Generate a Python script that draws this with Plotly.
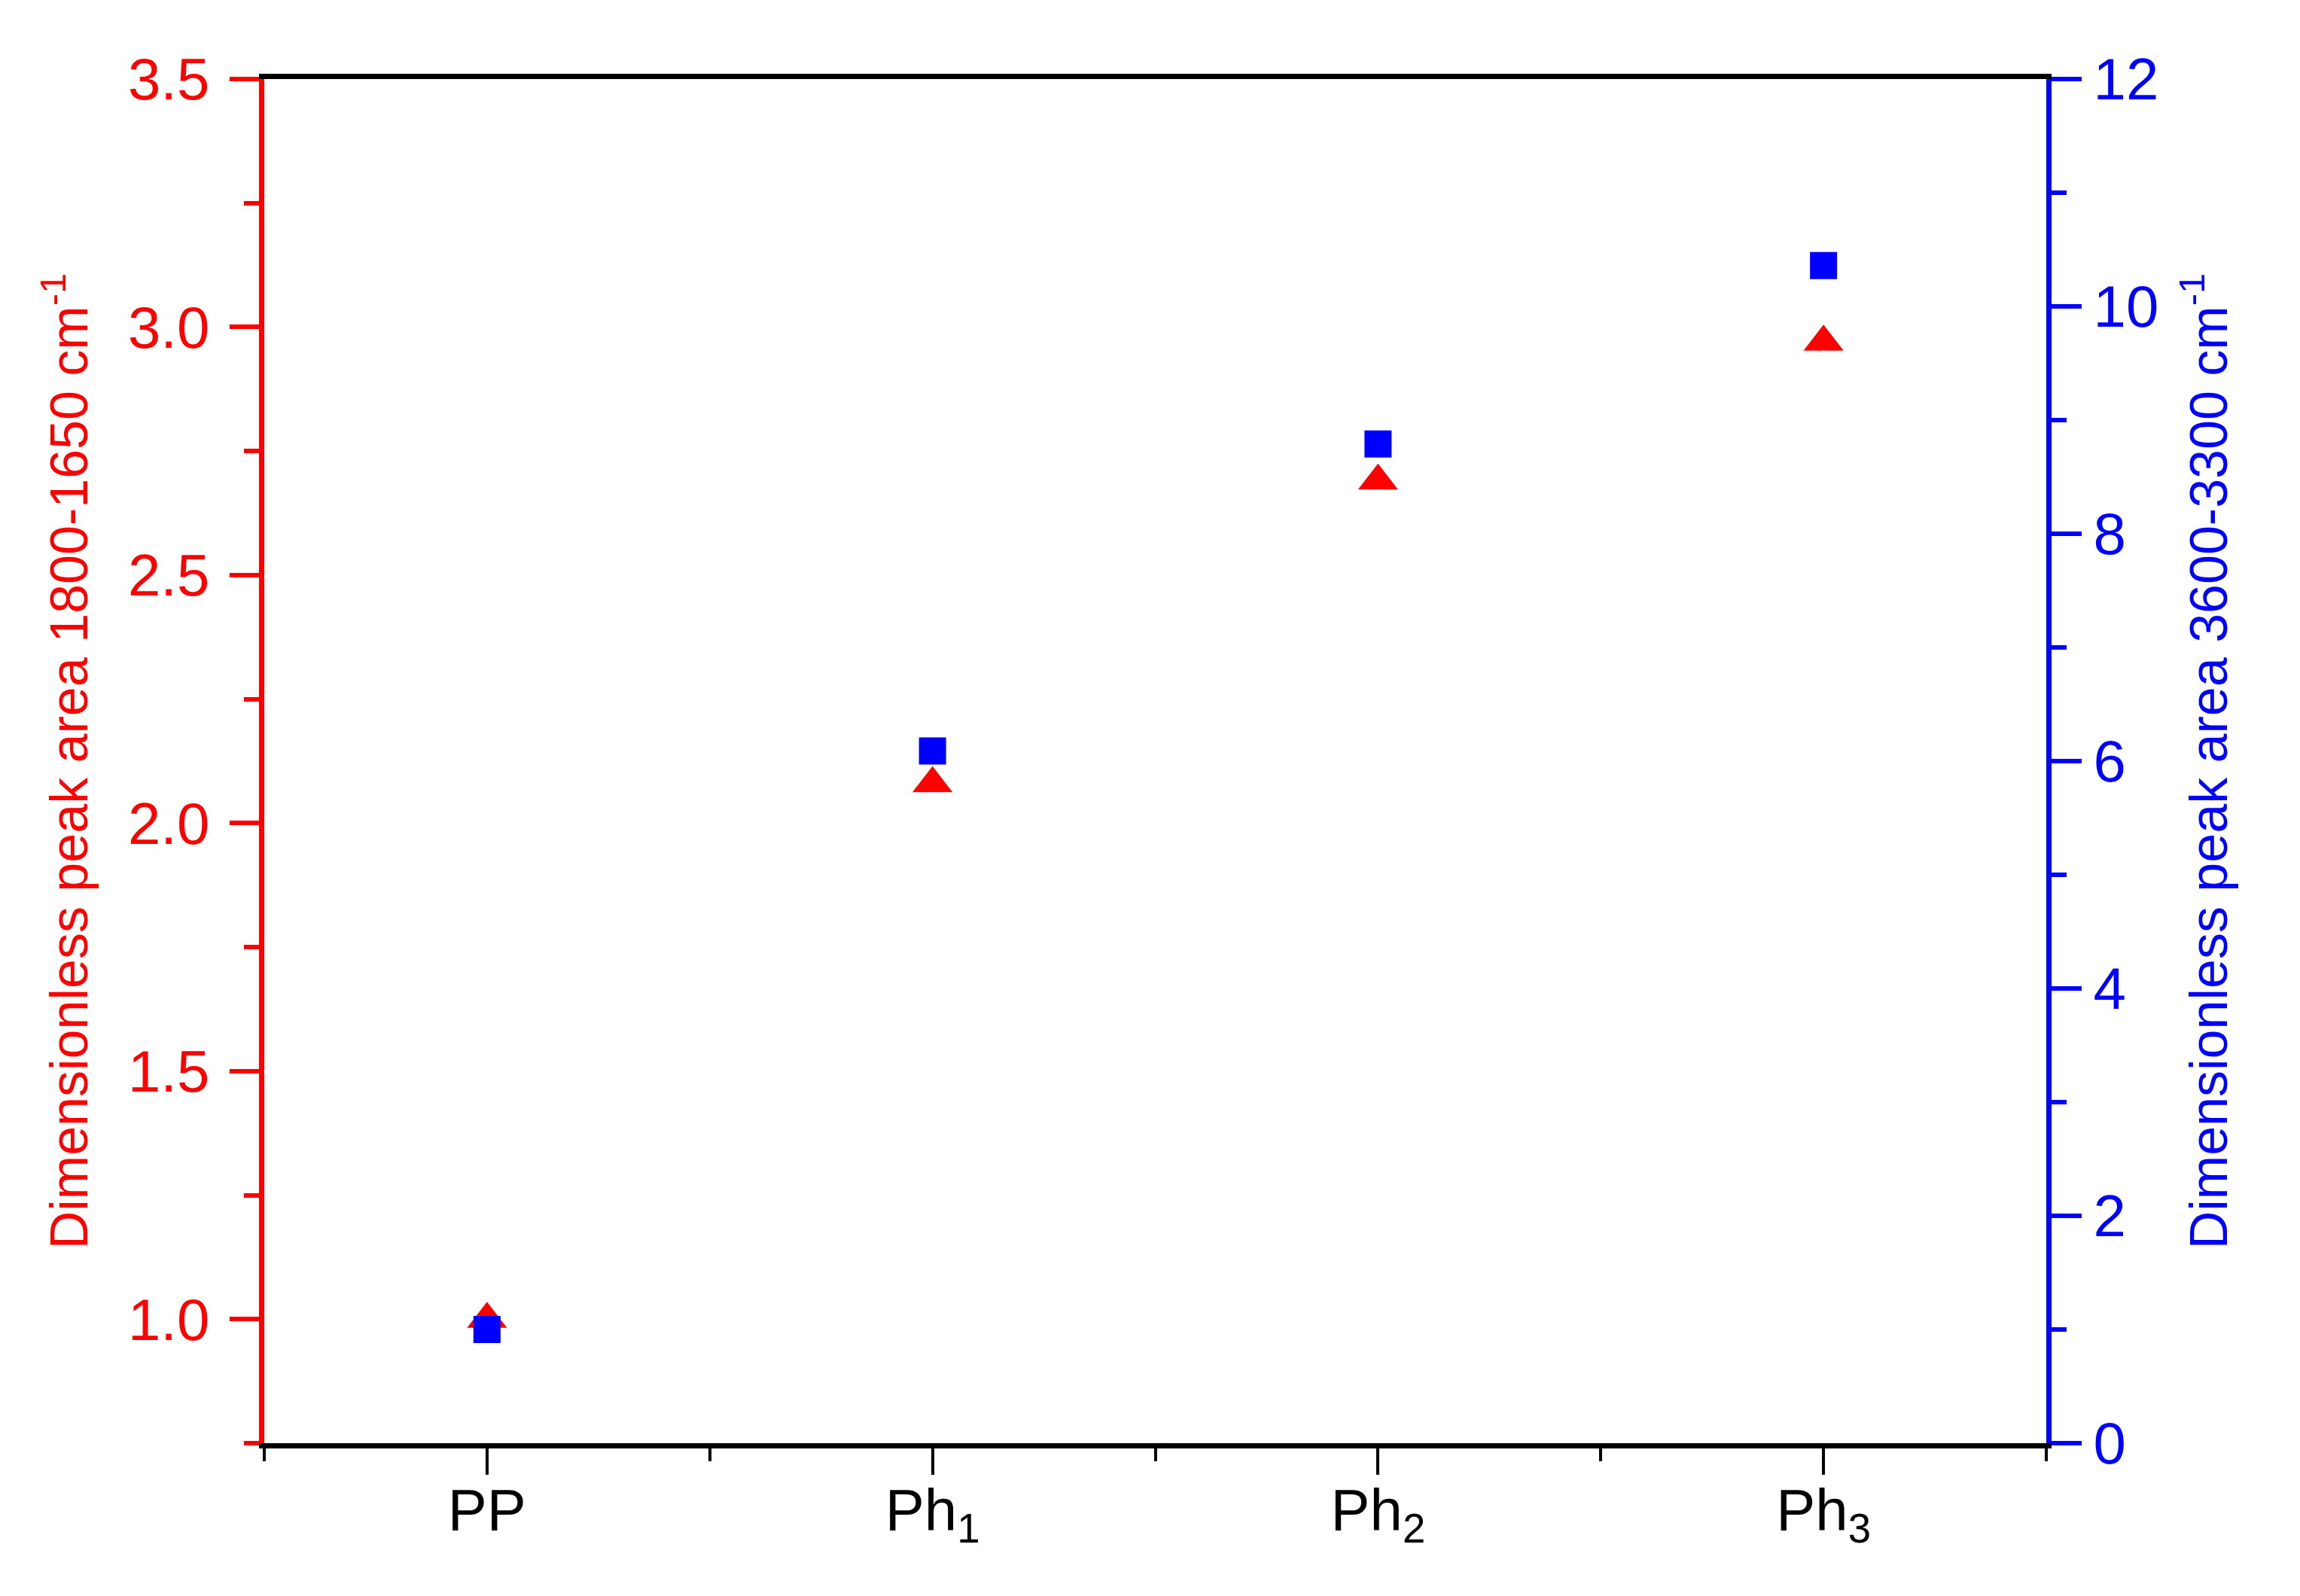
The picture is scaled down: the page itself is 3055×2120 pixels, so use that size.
import plotly.graph_objects as go

# ---- data ----
categories = ["PP", "Ph<sub>1</sub>", "Ph<sub>2</sub>", "Ph<sub>3</sub>"]
cat_pos = [0, 1, 2, 3]
area_1800_1650 = [1.00, 2.08, 2.69, 2.97]     # left axis, red triangles
area_3600_3300 = [1.00, 6.09, 8.79, 10.36]    # right axis, blue squares

left_title = "Dimensionless peak area 1800-1650 cm<sup>-1</sup>"
right_title = "Dimensionless peak area 3600-3300 cm<sup>-1</sup>"

RED = "#FF0000"
BLUE = "#0000FF"
FONT = "Arial, Liberation Sans, sans-serif"
TICK_FS = 78
TITLE_FS = 70

fig = go.Figure()
fig.add_trace(go.Scatter(
    x=cat_pos, y=area_1800_1650, mode="markers", yaxis="y",
    marker=dict(symbol="triangle-up", size=46, color=RED, line=dict(width=0)),
    showlegend=False,
))
fig.add_trace(go.Scatter(
    x=cat_pos, y=area_3600_3300, mode="markers", yaxis="y2",
    marker=dict(symbol="square", size=36, color=BLUE, line=dict(width=0)),
    showlegend=False,
))

fig.update_layout(
    width=3055, height=2120,
    margin=dict(l=343, r=345, t=97, b=211),
    paper_bgcolor="white", plot_bgcolor="white",
    font=dict(family=FONT, size=TICK_FS, color="black"),
    xaxis=dict(
        range=[-0.5, 3.5], tickmode="array", tickvals=cat_pos, ticktext=categories,
        showline=True, linecolor="black", linewidth=7, mirror=True,
        ticks="outside", ticklen=35, tickwidth=4, tickcolor="black",
        minor=dict(tickmode="array", tickvals=[-0.5, 0.5, 1.5, 2.5, 3.5],
                   ticks="outside", ticklen=17, tickwidth=4, tickcolor="black"),
        showgrid=False, zeroline=False,
        tickfont=dict(family=FONT, size=TICK_FS, color="black"),
        ticklabelstandoff=-20,
    ),
    yaxis=dict(
        range=[0.75, 3.5], tickmode="linear", tick0=1.0, dtick=0.5, tickformat=".1f",
        showline=True, linecolor=RED, linewidth=7,
        ticks="outside", ticklen=39, tickwidth=6, tickcolor=RED,
        minor=dict(tickmode="linear", tick0=0.75, dtick=0.25,
                   ticks="outside", ticklen=20, tickwidth=6, tickcolor=RED),
        showgrid=False, zeroline=False,
        tickfont=dict(family=FONT, size=TICK_FS, color=RED),
        ticklabelstandoff=11,
        title=dict(text=left_title, font=dict(family=FONT, size=TITLE_FS, color=RED), standoff=33),
    ),
    yaxis2=dict(
        range=[0, 12], tickmode="linear", tick0=0, dtick=2,
        overlaying="y", side="right",
        showline=True, linecolor=BLUE, linewidth=7,
        ticks="outside", ticklen=40, tickwidth=6, tickcolor=BLUE,
        minor=dict(tickmode="linear", tick0=0, dtick=1,
                   ticks="outside", ticklen=20, tickwidth=6, tickcolor=BLUE),
        showgrid=False, zeroline=False,
        tickfont=dict(family=FONT, size=TICK_FS, color=BLUE),
        ticklabelstandoff=0,
        title=dict(text=right_title, font=dict(family=FONT, size=TITLE_FS, color=BLUE), standoff=45),
    ),
)

fig.write_html("out.html")
